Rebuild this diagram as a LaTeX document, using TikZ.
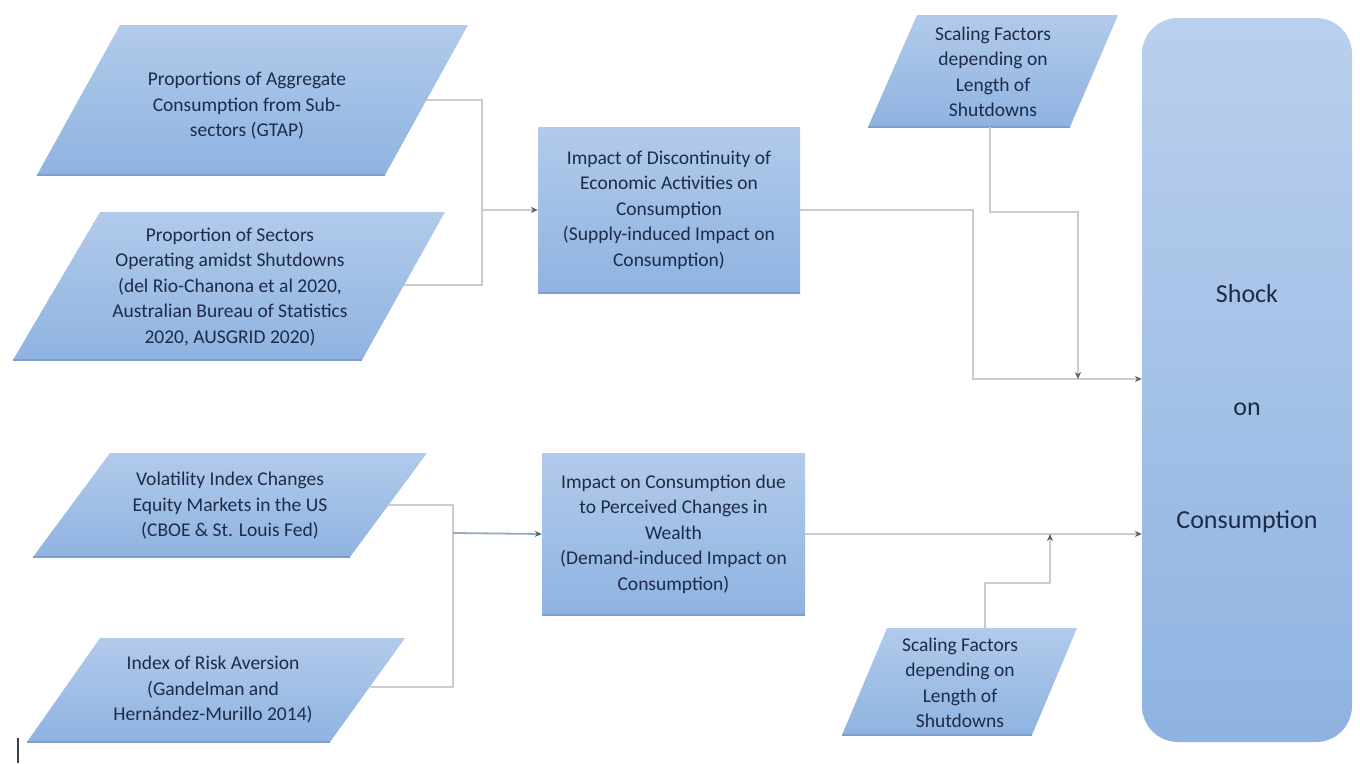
\documentclass[tikz,border=0pt]{standalone}
\usepackage{fontspec}
\setmainfont{Carlito}
\usetikzlibrary{arrows.meta}
\definecolor{boxtop}{HTML}{B2CAEB}
\definecolor{boxbot}{HTML}{8FB3E1}
\definecolor{boxedge}{HTML}{7E9FCC}
\definecolor{txtc}{HTML}{1E2B48}
\definecolor{connc}{HTML}{CBCBCB}
\definecolor{bluec}{HTML}{93AACB}
\definecolor{tipc}{HTML}{56606E}
\tikzset{
  para/.style={top color=boxtop, bottom color=boxbot, draw=none},
  paraedge/.style={draw=boxedge, line width=1.5pt},
  lbl/.style={align=center, text=txtc, inner sep=0pt, font=\fontsize{19.5}{25.5}\selectfont},
  rbox/.style={rectangle, top color=boxtop, bottom color=boxbot, draw=none, align=center,
    text=txtc, inner sep=0pt, font=\fontsize{19.5}{25.5}\selectfont},
  shockbox/.style={rectangle, rounded corners=36pt, top color=boxtop!90!white, bottom color=boxbot,
    draw=none, minimum width=210pt, minimum height=724pt},
  biglbl/.style={align=center, text=txtc, inner sep=0pt, font=\fontsize{26}{113}\selectfont},
  link/.style={draw=connc, line width=1.8pt},
  arrowlink/.style={link, -{Stealth[length=7pt,width=6pt,color=tipc]}},
}
\begin{document}
\begin{tikzpicture}[x=1pt,y=-1pt]
\useasboundingbox (0,0) rectangle (1360,763);

% ---------- upper-left inputs ----------
\shade[para] (120,25) -- (468,25) -- (385,175) -- (37,175) -- cycle;
\draw[paraedge] (37,175) -- (385,175);
\node[lbl] (p1) at (247,106) {Proportions of Aggregate\\Consumption from Sub-\\sectors (GTAP)};

\shade[para] (100,212) -- (445,212) -- (362,360) -- (13,360) -- cycle;
\draw[paraedge] (13,360) -- (362,360);
\node[lbl] (p2) at (230,287) {Proportion of Sectors\\Operating amidst Shutdowns\\(del Rio-Chanona et al 2020,\\Australian Bureau of Statistics\\2020, AUSGRID 2020)};

% ---------- lower-left inputs ----------
\shade[para] (110,453) -- (427,453) -- (350,557) -- (33,557) -- cycle;
\draw[paraedge] (33,557) -- (350,557);
\node[lbl] (p3) at (230,506) {Volatility Index Changes\\Equity Markets in the US\\(CBOE \& St. Louis Fed)};

\shade[para] (100,638) -- (405,638) -- (330,742) -- (27,742) -- cycle;
\draw[paraedge] (27,742) -- (330,742);
\node[lbl] (p4) at (213,690) {Index of Risk Aversion\\(Gandelman and\\Hernández-Murillo 2014)};

% ---------- scaling factors ----------
\shade[para] (917,15) -- (1118,15) -- (1070,127) -- (868,127) -- cycle;
\draw[paraedge] (868,127) -- (1070,127);
\node[lbl] (s1) at (993,72) {Scaling Factors\\depending on\\Length of\\Shutdowns};

\shade[para] (887,628) -- (1077,628) -- (1032,735) -- (842,735) -- cycle;
\draw[paraedge] (842,735) -- (1032,735);
\node[lbl] (s2) at (960,683) {Scaling Factors\\depending on\\Length of\\Shutdowns};

% ---------- middle boxes ----------
\node[rbox, minimum width=262pt, minimum height=166pt] (b1) at (669,210)
  {Impact of Discontinuity of\\Economic Activities on\\Consumption\\(Supply-induced Impact on\\Consumption)};
\draw[paraedge] (b1.south west) -- (b1.south east);
\node[rbox, minimum width=263pt, minimum height=162pt] (b2) at (673.5,534)
  {Impact on Consumption due\\to Perceived Changes in\\Wealth\\(Demand-induced Impact on\\Consumption)};
\draw[paraedge] (b2.south west) -- (b2.south east);

% ---------- shock box ----------
\node[shockbox] (shock) at (1247,380) {};
\node[biglbl] (shocktxt) at (1247,409) {Shock\\on\\Consumption};

% ---------- connector end points ----------
\coordinate (p1o) at (426,100);
\coordinate (p2o) at (404,285);
\coordinate (p3o) at (388,505);
\coordinate (p4o) at (370,687);
\coordinate (s1o) at (990,127);
\coordinate (s2o) at (985,628);
\coordinate (j1) at (482,210);
\coordinate (j2) at (453,533);
\coordinate (m1) at (1078,379);
\coordinate (m2) at (1050,534);

% ---------- connectors ----------
\draw[link] (p1o) -- (482,100) -- (482,285) -- (p2o);
\draw[arrowlink] (j1) -- (b1.west);
\draw[arrowlink] (b1.east) -- (973,210) -- (973,379) -- (shock.west |- m1);
\draw[arrowlink] (s1o) -- (990,212) -- (1078,212) -- (m1);

\draw[link] (p3o) -- (453,505) -- (453,687) -- (p4o);
\draw[link, draw=bluec, -{Stealth[length=7pt,width=6pt,color=tipc]}] (j2) -- (b2.west);
\draw[arrowlink] (b2.east) -- (shock.west |- b2.east);
\draw[arrowlink] (s2o) -- (985,583) -- (1050,583) -- (m2);

% stray mark at lower left
\draw[line width=2.5pt, black!75] (18,738) -- (18,763);
\end{tikzpicture}
\end{document}
